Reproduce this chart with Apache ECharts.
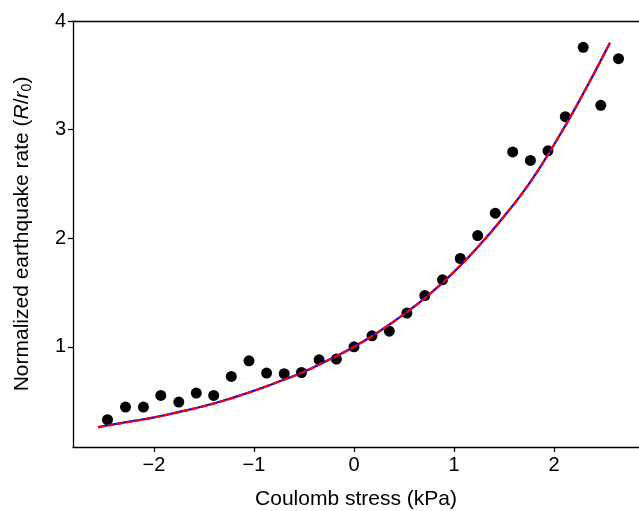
<!DOCTYPE html>
<html>
<head>
<meta charset="utf-8">
<script src="https://cdn.jsdelivr.net/npm/echarts@6/dist/echarts.min.js"></script>
<style>
html,body{margin:0;padding:0;background:#fff;}
#chart{width:639px;height:511px;}
</style>
</head>
<body>
<div id="chart"></div>
<script>
// Observed normalized earthquake rate (dots)
var obsX = [-2.465, -2.285, -2.106, -1.932, -1.752, -1.577, -1.403, -1.227, -1.050, -0.874,
            -0.698, -0.525, -0.349, -0.176, 0.000, 0.180, 0.353, 0.529, 0.708, 0.885,
            1.063, 1.237, 1.413, 1.587, 1.764, 1.940, 2.113, 2.292, 2.468, 2.645];
var obsY = [0.328, 0.445, 0.445, 0.552, 0.491, 0.574, 0.552, 0.727, 0.871, 0.758,
            0.752, 0.763, 0.880, 0.887, 1.000, 1.101, 1.144, 1.310, 1.472, 1.617,
            1.813, 2.024, 2.230, 2.794, 2.716, 2.804, 3.119, 3.758, 3.224, 3.653];
// Model curves (blue solid and red dashed, overlapping)
var modelX = [-2.56, -2.25, -2.0, -1.75, -1.5, -1.25, -1.0, -0.75, -0.5, -0.25, 0.0,
              0.25, 0.5, 0.75, 1.0, 1.25, 1.5, 1.75, 2.0, 2.25, 2.56];
var modelBlueY = [0.261, 0.31, 0.35, 0.40, 0.455, 0.52, 0.595, 0.68, 0.77, 0.88, 1.0,
                  1.14, 1.30, 1.48, 1.69, 1.93, 2.20, 2.50, 2.86, 3.26, 3.80];
var modelRedY = [0.258, 0.307, 0.348, 0.398, 0.453, 0.518, 0.594, 0.68, 0.77, 0.88, 1.0,
                 1.14, 1.30, 1.48, 1.69, 1.93, 2.20, 2.50, 2.86, 3.26, 3.80];
var xTicks = [-2, -1, 0, 1, 2];
var yTicks = [1, 2, 3, 4];

function pairs(xs, ys) { return xs.map(function (x, i) { return [x, ys[i]]; }); }
function fmt(v) { return v < 0 ? '\u2212' + Math.abs(v) : String(v); }

var FONT = '"Liberation Sans", Arial, Helvetica, sans-serif';
var chart = echarts.init(document.getElementById('chart'), null, {renderer: 'canvas'});
chart.setOption({
  animation: false,
  backgroundColor: '#ffffff',
  grid: {left: 73, right: 0, top: 21, bottom: 64, containLabel: false, outerBoundsMode: 'none'},
  xAxis: [{
    type: 'value', min: -2.81, max: 2.85, position: 'bottom',
    name: 'Coulomb stress (kPa)', nameLocation: 'middle', nameGap: 42,
    nameTextStyle: {fontFamily: FONT, fontSize: 21, color: '#000'},
    axisLine: {show: true, lineStyle: {color: '#000', width: 1.3}},
    axisTick: {show: true, inside: false, length: 5, lineStyle: {color: '#000', width: 1.3}, customValues: xTicks},
    axisLabel: {show: true, margin: 8, fontFamily: FONT, fontSize: 20, color: '#000', customValues: xTicks, formatter: fmt},
    splitLine: {show: false}
  }, {
    type: 'value', min: -2.81, max: 2.85, position: 'top',
    axisLine: {show: true, onZero: false, lineStyle: {color: '#000', width: 1.3}},
    axisTick: {show: false}, axisLabel: {show: false}, splitLine: {show: false}
  }],
  yAxis: [{
    type: 'value', min: 0.077, max: 4, position: 'left',
    name: '{n|Normalized earthquake rate (}{i|R}{n|/}{i|r}{s|0}{n|)}',
    nameLocation: 'middle', nameGap: 39, nameRotate: 90,
    nameTextStyle: {
      fontFamily: FONT, fontSize: 21, color: '#000',
      rich: {
        n: {fontFamily: FONT, fontSize: 21, color: '#000', lineHeight: 23},
        i: {fontFamily: FONT, fontSize: 21, fontStyle: 'italic', color: '#000', lineHeight: 23},
        s: {fontFamily: FONT, fontSize: 14, color: '#000', lineHeight: 23, verticalAlign: 'bottom', padding: [8, 0, 0, 0]}
      }
    },
    axisLine: {show: true, onZero: false, lineStyle: {color: '#000', width: 1.3}},
    axisTick: {show: true, inside: false, length: 5, lineStyle: {color: '#000', width: 1.3}, customValues: yTicks},
    axisLabel: {show: true, margin: 7, fontFamily: FONT, fontSize: 20, color: '#000', customValues: yTicks, formatter: fmt},
    splitLine: {show: false}
  }],
  series: [{
    type: 'scatter', name: 'observed', xAxisIndex: 0,
    data: pairs(obsX, obsY), symbol: 'circle', symbolSize: 11,
    itemStyle: {color: '#000', opacity: 1}
  }, {
    type: 'line', name: 'model blue', xAxisIndex: 0,
    data: pairs(modelX, modelBlueY), smooth: true, showSymbol: false,
    lineStyle: {color: '#0000ff', width: 2.2, type: 'solid'}
  }, {
    type: 'line', name: 'model red', xAxisIndex: 0,
    data: pairs(modelX, modelRedY), smooth: true, showSymbol: false,
    lineStyle: {color: '#ff0000', width: 2.2, type: [7, 2.5]}
  }]
});
</script>
</body>
</html>
